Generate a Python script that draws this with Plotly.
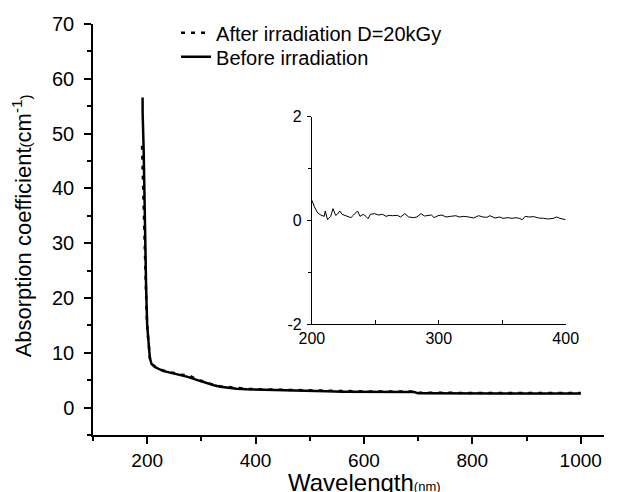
import plotly.graph_objects as go

# ---------------- data ----------------
before_wl = [191.5, 191.6, 193.5, 195.9, 198, 200, 202, 205, 208, 214, 229, 251, 262,
             275, 290, 299, 310, 323, 335, 347, 365, 383, 410, 443, 470, 503, 530,
             563, 600, 650, 693, 700, 750, 800, 850, 900, 950, 1000]
before_abs = [56.6, 53.7, 47.0, 30.5, 22.0, 15.0, 12.0, 9.0, 8.0, 7.4, 6.7, 6.2, 5.9,
              5.6, 5.1, 4.8, 4.4, 4.07, 3.8, 3.65, 3.45, 3.34, 3.25, 3.16, 3.1, 3.05, 2.98,
              2.9, 2.87, 2.85, 2.85, 2.6, 2.56, 2.56, 2.56, 2.56, 2.56, 2.56]

after_wl = [190.5, 192.5, 194.5, 197, 199, 201, 203, 205, 208, 214, 229, 251, 262,
            277, 290, 299, 310, 323, 335, 347, 365, 383, 410, 443, 470, 503, 530,
            563, 600, 650, 693, 700, 750, 800, 850, 900, 950, 1000]
after_abs = [47.8, 40.0, 31.0, 24.0, 17.0, 13.5, 11.1, 9.1, 8.1, 7.5, 6.8, 6.3, 6.0,
             5.9, 5.2, 4.9, 4.5, 4.15, 3.9, 3.75, 3.55, 3.42, 3.33, 3.24, 3.18, 3.12, 3.06,
             2.98, 2.95, 2.92, 2.92, 2.7, 2.66, 2.66, 2.68, 2.66, 2.66, 2.68]

inset_wl = [200, 202, 204.6, 207, 209.7, 210.5, 212.3, 214.8, 216.6, 218.7, 220, 222,
            223.8, 226.4, 229, 230.7, 232.8, 236, 237.9, 240.4, 242.5, 244.3, 246,
            249.4, 252.7, 255.8, 258.4, 260.9, 263.5, 267.3, 269.9, 273.2, 276.3,
            280.1, 282.7, 286, 288.6, 291.7, 294.2, 296.3, 299.4, 302.4, 305.8, 309.1,
            313.4, 316, 319.8, 323.7, 327.5, 331.4, 334.7, 337.8, 340.3, 344.2, 348,
            350.6, 354.4, 357.7, 360.8, 363.4, 365.9, 368, 371, 374.9, 378.7, 382.6,
            386.4, 390.2, 392.8, 395.4, 397.9, 400]
inset_diff = [0.387, 0.258, 0.142, 0.103, 0.077, 0.181, 0.013, 0.077, 0.226, 0.097,
              0.116, 0.181, 0.116, 0.090, 0.077, 0.052, 0.103, 0.181, 0.077, 0.116,
              0.077, 0.032, 0.116, 0.129, 0.103, 0.116, 0.077, 0.097, 0.090, 0.097,
              0.065, 0.129, 0.065, 0.052, 0.065, 0.129, 0.084, 0.090, 0.103, 0.052,
              0.090, 0.103, 0.065, 0.077, 0.090, 0.065, 0.077, 0.065, 0.045, 0.090,
              0.065, 0.058, 0.090, 0.045, 0.065, 0.039, 0.052, 0.039, 0.052, 0.039,
              0.013, 0.077, 0.065, 0.071, 0.045, 0.039, 0.026, 0.039, 0.065, 0.039,
              0.026, 0.013]

inset_yticks = [-2, 0, 2]
inset_ylabels = ["-2", "0", "2"]

FONT = "Arial, 'Liberation Sans', sans-serif"

fig = go.Figure()
fig.add_trace(go.Scatter(x=after_wl, y=after_abs, mode="lines",
                         name="After irradiation D=20kGy", legend="legend",
                         line=dict(color="black", width=2.5, dash="4px,6px")))
fig.add_trace(go.Scatter(x=before_wl, y=before_abs, mode="lines",
                         name="Before irradiation", legend="legend2",
                         line=dict(color="black", width=2.5)))
fig.add_trace(go.Scatter(x=inset_wl, y=inset_diff, mode="lines", showlegend=False,
                         line=dict(color="black", width=1),
                         xaxis="x2", yaxis="y2"))

axis_common = dict(showline=True, linecolor="black", showgrid=False, zeroline=False,
                   ticks="outside", tickcolor="black", color="black")

legend_common = dict(xanchor="left", yanchor="top", font=dict(size=20, family=FONT),
                     bgcolor="rgba(0,0,0,0)", borderwidth=0)

fig.update_layout(
    width=609, height=484,
    margin=dict(l=85, r=0, t=16, b=57),
    paper_bgcolor="white", plot_bgcolor="white",
    font=dict(family=FONT, color="black"),
    xaxis=dict(**axis_common, range=[100, 1043], linewidth=1.5, tickwidth=1.5,
               ticklen=7, tick0=0, dtick=200, tickfont=dict(size=19),
               ticklabelstandoff=0,
               minor=dict(dtick=100, ticklen=4, ticks="outside", tickwidth=1.5,
                          tickcolor="black")),
    yaxis=dict(**axis_common, range=[-5, 70], linewidth=1.5, tickwidth=1.5,
               ticklen=7, tick0=0, dtick=10, tickfont=dict(size=20),
               ticklabelstandoff=6,
               minor=dict(dtick=5, ticklen=4, ticks="outside", tickwidth=1.5,
                          tickcolor="black")),
    xaxis2=dict(showline=True, linecolor="black", showgrid=False, zeroline=False,
                domain=[0.4284, 0.925], anchor="y2", range=[200, 400],
                ticks="inside", ticklen=4, tickcolor="black", tickwidth=1,
                linewidth=1, tick0=0, dtick=100, tickfont=dict(size=16),
                minor=dict(dtick=50, ticklen=4, ticks="inside", tickcolor="black")),
    yaxis2=dict(showline=True, linecolor="black", showgrid=False, zeroline=False,
                domain=[0.270, 0.7745], anchor="x2", range=[-2, 2],
                ticks="outside", ticklen=4, tickcolor="black", tickwidth=1,
                linewidth=1, tickmode="array", tickvals=inset_yticks,
                ticktext=inset_ylabels, tickfont=dict(size=16),
                ticklabelstandoff=2,
                minor=dict(tickmode="linear", tick0=0, dtick=1, ticklen=3,
                           ticks="outside", tickcolor="black")),
    legend=dict(**legend_common, x=0.1625, y=1.026),
    legend2=dict(**legend_common, x=0.1625, y=0.9676),
    annotations=[
        dict(text="Wavelength<span style='font-size:13px'>(nm)</span>",
             xref="paper", yref="paper", x=0.5315, y=-0.078,
             xanchor="center", yanchor="top", showarrow=False,
             font=dict(size=24, family=FONT)),
        dict(text="Absorption coefficient<span style='font-size:15px'>(</span>cm<sup>-1</sup><span style='font-size:15px'>)</span>",
             xref="paper", yref="paper", x=-0.139, y=0.51,
             xanchor="center", yanchor="middle", textangle=-90, showarrow=False,
             font=dict(size=22, family=FONT)),
    ],
)

fig.write_html("out.html")
